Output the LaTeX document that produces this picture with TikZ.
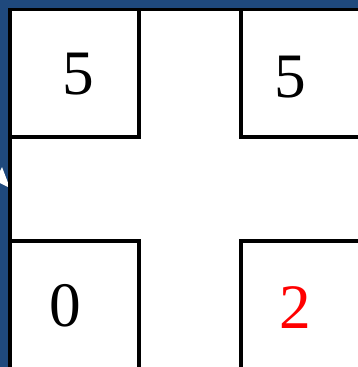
\documentclass[tikz,border=0pt]{standalone}
\usepackage{fontspec}
\setmainfont{Liberation Serif}
\usepackage{xcolor}
\definecolor{slideblue}{RGB}{31,73,125}

\begin{document}
\begin{tikzpicture}[
    x=0.01cm,
    y=-0.01cm,
    cell/.style={
        draw=black,
        line width=0.9pt,
        fill=white
    },
    num/.style={
        font=\fontsize{18}{20}\selectfont,
        inner sep=0pt,
        text=black
    }
]
    \useasboundingbox (0,0) rectangle (358,367);
    \clip (0,0) rectangle (358,367);
    % frame
    \fill[slideblue] (0,0) rectangle (358,367);
    \fill[white] (10,10) rectangle (380,390);
    \fill[white] (2,167) -- (10,188) -- (0,183) -- (0,171) -- cycle;
    \draw[line width=0.9pt] (10,390) -- (10,9.5) -- (380,9.5);
    % the four cells
    \draw[cell] (10,9.5) rectangle (139,137);
    \draw[cell] (241,9.5) rectangle (380,137);
    \draw[cell] (10,241) rectangle (139,390);
    \draw[cell] (241,241) rectangle (380,390);
    \node[num] (topleft) at (78,74) {5};
    \node[num] (topright) at (290,77) {5};
    \node[num] (botleft) at (65,306) {0};
    \node[num, text=red] (botright) at (295,308) {2};
\end{tikzpicture}
\end{document}
